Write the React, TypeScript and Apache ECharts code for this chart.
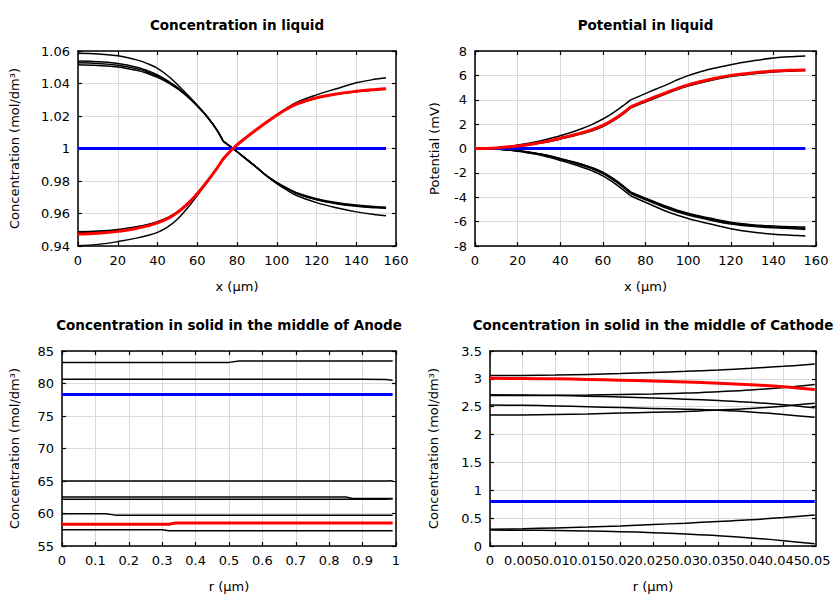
import React, { useEffect, useRef } from "react";
import * as echarts from "echarts";

// ---------- Panel 1 & 2: liquid, x in µm ----------
const X_LIQ = [0, 10, 20, 30, 35, 40, 45, 50, 55, 60, 65, 70, 73, 78, 85, 90, 95, 100, 105, 110, 120, 130, 140, 150, 155];
const X_KINK = 73;

// Concentration in liquid (mol/dm3)
const CL_BLACK_A = [1.0586, 1.0582, 1.0571, 1.0544, 1.0522, 1.0493, 1.0449, 1.0394, 1.0332, 1.0266, 1.0195, 1.0112, 1.0046, 1.0, 0.9932, 0.9882, 0.9829, 0.9784, 0.9745, 0.9711, 0.9667, 0.9635, 0.961, 0.9592, 0.9586];
const CL_BLACK_B = [1.0538, 1.0534, 1.0523, 1.0499, 1.0479, 1.0453, 1.0418, 1.0376, 1.0324, 1.0264, 1.0195, 1.0112, 1.0046, 1.0, 0.9932, 0.9882, 0.9832, 0.9791, 0.9757, 0.9728, 0.9691, 0.9667, 0.9652, 0.9642, 0.9639];
const CL_BLACK_C = [1.0527, 1.0523, 1.0513, 1.049, 1.0471, 1.0446, 1.0413, 1.0372, 1.0322, 1.0263, 1.0195, 1.0112, 1.0046, 1.0, 0.9932, 0.9882, 0.9832, 0.979, 0.9755, 0.9725, 0.9687, 0.9663, 0.9648, 0.9638, 0.9635];
const CL_BLACK_D = [1.0515, 1.0511, 1.0502, 1.048, 1.0462, 1.0438, 1.0407, 1.0368, 1.032, 1.0262, 1.0195, 1.0112, 1.0046, 1.0, 0.9932, 0.9882, 0.9832, 0.979, 0.9754, 0.9723, 0.9684, 0.966, 0.9645, 0.9635, 0.9632];
const CL_BLACK_E = [0.9402, 0.941, 0.9427, 0.945, 0.9465, 0.9484, 0.9516, 0.9565, 0.9632, 0.971, 0.9793, 0.988, 0.9935, 1.0, 1.0072, 1.0118, 1.0163, 1.0208, 1.0249, 1.0284, 1.033, 1.0368, 1.0404, 1.0427, 1.0435];
const CL_BLACK_F = [0.9488, 0.9492, 0.9502, 0.952, 0.9533, 0.955, 0.9574, 0.961, 0.966, 0.9723, 0.9797, 0.988, 0.9935, 1.0, 1.0072, 1.0118, 1.0163, 1.0205, 1.0243, 1.0273, 1.031, 1.0334, 1.035, 1.0361, 1.0365];
const CL_BLACK_G = [0.9481, 0.9486, 0.9496, 0.9515, 0.9528, 0.9546, 0.9571, 0.9608, 0.9659, 0.9722, 0.9797, 0.988, 0.9935, 1.0, 1.0072, 1.0118, 1.0163, 1.0205, 1.0243, 1.0273, 1.0311, 1.0335, 1.0351, 1.0362, 1.0366];
const CL_RED = [0.9474, 0.9479, 0.949, 0.951, 0.9524, 0.9542, 0.9568, 0.9606, 0.9658, 0.9722, 0.9797, 0.988, 0.9935, 1.0, 1.0072, 1.0118, 1.0163, 1.0205, 1.0243, 1.0274, 1.0312, 1.0336, 1.0352, 1.0363, 1.0367];
const CL_BLUE = [1, 1, 1, 1, 1, 1, 1, 1, 1, 1, 1, 1, 1, 1, 1, 1, 1, 1, 1, 1, 1, 1, 1, 1, 1];

// Potential in liquid (mV)
const PL_BLACK_UP_OUT = [0, 0.06, 0.28, 0.6, 0.82, 1.05, 1.32, 1.62, 1.98, 2.42, 2.95, 3.57, 3.99, 4.36, 4.88, 5.24, 5.64, 5.98, 6.26, 6.5, 6.88, 7.18, 7.42, 7.55, 7.59];
const PL_BLACK_UP = [0, 0.04, 0.18, 0.42, 0.58, 0.78, 0.98, 1.2, 1.46, 1.8, 2.28, 2.88, 3.32, 3.68, 4.17, 4.5, 4.83, 5.12, 5.36, 5.56, 5.9, 6.11, 6.27, 6.36, 6.4];
const PL_RED = [0, 0.05, 0.2, 0.46, 0.63, 0.84, 1.05, 1.28, 1.55, 1.9, 2.38, 2.98, 3.42, 3.78, 4.27, 4.6, 4.93, 5.22, 5.46, 5.66, 6.0, 6.2, 6.35, 6.43, 6.45];
const PL_BLACK_LO_1 = [0, -0.04, -0.17, -0.42, -0.6, -0.82, -1.04, -1.28, -1.57, -1.95, -2.48, -3.12, -3.56, -3.93, -4.42, -4.76, -5.06, -5.3, -5.52, -5.71, -6.05, -6.25, -6.36, -6.43, -6.45];
const PL_BLACK_LO_2 = [0, -0.04, -0.18, -0.44, -0.62, -0.85, -1.08, -1.32, -1.62, -2.0, -2.54, -3.18, -3.62, -3.99, -4.48, -4.83, -5.13, -5.37, -5.59, -5.78, -6.12, -6.32, -6.44, -6.51, -6.54];
const PL_BLACK_LO_3 = [0, -0.05, -0.19, -0.46, -0.65, -0.88, -1.12, -1.37, -1.67, -2.06, -2.6, -3.25, -3.69, -4.06, -4.56, -4.91, -5.21, -5.45, -5.67, -5.86, -6.19, -6.39, -6.51, -6.58, -6.64];
const PL_BLACK_LO_OUT = [0, -0.05, -0.22, -0.52, -0.73, -0.98, -1.24, -1.52, -1.84, -2.24, -2.8, -3.45, -3.88, -4.27, -4.8, -5.17, -5.47, -5.74, -5.97, -6.18, -6.58, -6.85, -7.03, -7.13, -7.17];
const PL_BLUE = [0, 0, 0, 0, 0, 0, 0, 0, 0, 0, 0, 0, 0, 0, 0, 0, 0, 0, 0, 0, 0, 0, 0, 0, 0];

// ---------- Panel 3: solid, anode, r in µm ----------
const R_AN = [0, 0.1, 0.13, 0.16, 0.2, 0.3, 0.32, 0.34, 0.4, 0.5, 0.53, 0.6, 0.7, 0.8, 0.85, 0.87, 0.9, 0.97, 0.99];
const AN_1 = [83.25, 83.25, 83.25, 83.25, 83.25, 83.25, 83.25, 83.25, 83.25, 83.25, 83.45, 83.45, 83.45, 83.45, 83.45, 83.45, 83.45, 83.45, 83.45];
const AN_2 = [80.65, 80.65, 80.65, 80.65, 80.65, 80.65, 80.65, 80.65, 80.65, 80.65, 80.65, 80.65, 80.65, 80.65, 80.65, 80.65, 80.65, 80.62, 80.5];
const AN_BLUE = [78.3, 78.3, 78.3, 78.3, 78.3, 78.3, 78.3, 78.3, 78.3, 78.3, 78.3, 78.3, 78.3, 78.3, 78.3, 78.3, 78.3, 78.3, 78.3];
const AN_3 = [65.0, 65.0, 65.0, 65.0, 65.0, 65.0, 65.0, 65.0, 65.0, 65.0, 65.0, 65.0, 65.0, 65.0, 65.0, 65.0, 65.0, 65.0, 65.02];
const AN_4 = [62.55, 62.55, 62.55, 62.55, 62.55, 62.55, 62.55, 62.55, 62.55, 62.55, 62.55, 62.55, 62.55, 62.55, 62.55, 62.32, 62.3, 62.3, 62.3];
const AN_5 = [62.2, 62.2, 62.2, 62.2, 62.2, 62.2, 62.2, 62.2, 62.2, 62.2, 62.2, 62.2, 62.2, 62.2, 62.2, 62.2, 62.2, 62.2, 62.25];
const AN_6 = [59.95, 59.95, 59.95, 59.75, 59.75, 59.75, 59.75, 59.75, 59.75, 59.75, 59.75, 59.75, 59.75, 59.75, 59.75, 59.75, 59.75, 59.75, 59.75];
const AN_RED = [58.35, 58.35, 58.35, 58.35, 58.35, 58.35, 58.35, 58.55, 58.55, 58.55, 58.55, 58.55, 58.55, 58.55, 58.55, 58.55, 58.55, 58.55, 58.55];
const AN_7 = [57.5, 57.5, 57.5, 57.5, 57.5, 57.5, 57.35, 57.35, 57.35, 57.35, 57.35, 57.35, 57.35, 57.35, 57.35, 57.35, 57.35, 57.35, 57.35];

// ---------- Panel 4: solid, cathode, r in µm ----------
const R_CA = [0, 0.005, 0.01, 0.015, 0.02, 0.025, 0.03, 0.035, 0.04, 0.045, 0.0498];
const CA_1 = [3.06, 3.062, 3.068, 3.08, 3.095, 3.113, 3.135, 3.16, 3.19, 3.225, 3.265];
const CA_RED = [3.01, 3.007, 3.0, 2.99, 2.977, 2.962, 2.944, 2.922, 2.895, 2.86, 2.81];
const CA_2 = [2.7, 2.7, 2.705, 2.71, 2.72, 2.73, 2.745, 2.77, 2.8, 2.845, 2.9];
const CA_3 = [2.715, 2.71, 2.7, 2.69, 2.675, 2.655, 2.635, 2.61, 2.58, 2.535, 2.48];
const CA_4 = [2.53, 2.525, 2.515, 2.5, 2.485, 2.47, 2.455, 2.435, 2.405, 2.36, 2.31];
const CA_5 = [2.35, 2.352, 2.36, 2.37, 2.385, 2.4, 2.415, 2.44, 2.47, 2.51, 2.56];
const CA_BLUE = [0.8, 0.8, 0.8, 0.8, 0.8, 0.8, 0.8, 0.8, 0.8, 0.8, 0.8];
const CA_6 = [0.3, 0.31, 0.325, 0.34, 0.36, 0.385, 0.41, 0.44, 0.47, 0.51, 0.555];
const CA_7 = [0.285, 0.283, 0.278, 0.27, 0.258, 0.24, 0.215, 0.185, 0.145, 0.095, 0.04];

// ---------- Text ----------
const TITLES = [
  "Concentration in liquid",
  "Potential in liquid",
  "Concentration in solid in the middle of Anode",
  "Concentration in solid in the middle of Cathode",
];
const X_NAMES = ["x (µm)", "x (µm)", "r (µm)", "r (µm)"];
const Y_NAMES = ["Concentration (mol/dm³)", "Potential (mV)", "Concentration (mol/dm³)", "Concentration (mol/dm³)"];

const X_RANGES = [
  { min: 0, max: 160, interval: 20 },
  { min: 0, max: 160, interval: 20 },
  { min: 0, max: 1, interval: 0.1 },
  { min: 0, max: 0.05, interval: 0.005 },
];
const Y_RANGES = [
  { min: 0.94, max: 1.06, interval: 0.02 },
  { min: -8, max: 8, interval: 2 },
  { min: 55, max: 85, interval: 5 },
  { min: 0, max: 3.5, interval: 0.5 },
];

const FONT = "DejaVu Sans";
const GRIDS = [
  { left: 78, top: 51, width: 318, height: 195 },
  { left: 475, top: 51, width: 341, height: 195 },
  { left: 62, top: 351, width: 334, height: 195 },
  { left: 490, top: 351, width: 326, height: 195 },
];
const Y_NAME_GAPS = [57, 34, 41, 50];

function mkLine(xs: number[], ys: number[], color: string, width: number, idx: number, z: number, smooth: boolean) {
  return {
    type: "line",
    xAxisIndex: idx,
    yAxisIndex: idx,
    data: xs.map((x, i) => [x, ys[i]]),
    showSymbol: false,
    symbol: "none",
    silent: true,
    smooth: smooth ? 0.4 : false,
    z,
    lineStyle: { color, width },
  };
}

// liquid curves have a kink at the electrode/separator interface: smooth each side separately
function mkKinked(xs: number[], ys: number[], color: string, width: number, idx: number, z: number) {
  const k = xs.indexOf(X_KINK);
  return [
    mkLine(xs.slice(0, k + 1), ys.slice(0, k + 1), color, width, idx, z, true),
    mkLine(xs.slice(k), ys.slice(k), color, width, idx, z, true),
  ];
}

function buildOption() {
  const xAxes: any[] = [];
  const yAxes: any[] = [];
  const axisLine = { show: true, onZero: false, lineStyle: { color: "#000", width: 1.5 } };
  const axisTick = { show: true, inside: true, length: 4, lineStyle: { color: "#000", width: 1.2 } };
  const labelStyle = { color: "#000", fontSize: 13, fontFamily: FONT, margin: 8 };
  for (let i = 0; i < 4; i++) {
    xAxes.push({
      type: "value",
      gridIndex: i,
      position: "bottom",
      ...X_RANGES[i],
      axisLine,
      axisTick,
      axisLabel: { ...labelStyle, showMinLabel: true, showMaxLabel: i === 3 ? false : true },
      splitLine: { show: true, lineStyle: { color: "#dadada", width: 1 } },
      name: X_NAMES[i],
      nameLocation: "middle",
      nameGap: 34,
      nameTextStyle: { color: "#000", fontSize: 13, fontFamily: FONT },
    });
    yAxes.push({
      type: "value",
      gridIndex: i,
      position: "left",
      ...Y_RANGES[i],
      axisLine,
      axisTick,
      axisLabel: { ...labelStyle, showMinLabel: true, showMaxLabel: true },
      splitLine: { show: true, lineStyle: { color: "#dadada", width: 1 } },
      name: Y_NAMES[i],
      nameLocation: "middle",
      nameGap: Y_NAME_GAPS[i],
      nameRotate: 90,
      nameTextStyle: { color: "#000", fontSize: 13, fontFamily: FONT },
    });
  }
  for (let i = 0; i < 4; i++) {
    xAxes.push({
      type: "value",
      gridIndex: i,
      position: "top",
      ...X_RANGES[i],
      axisLine,
      axisTick,
      axisLabel: { show: false },
      splitLine: { show: false },
    });
    yAxes.push({
      type: "value",
      gridIndex: i,
      position: "right",
      ...Y_RANGES[i],
      axisLine,
      axisTick,
      axisLabel: { show: false },
      splitLine: { show: false },
    });
  }
  // extra bottom axis for the cathode panel: only carries the max label (0.05),
  // so that it overlaps 0.045 as in the original instead of hiding it
  xAxes.push({
    type: "value",
    gridIndex: 3,
    position: "bottom",
    min: X_RANGES[3].min,
    max: X_RANGES[3].max,
    interval: X_RANGES[3].max,
    axisLine: { show: false, onZero: false },
    axisTick: { show: false },
    axisLabel: { ...labelStyle, showMinLabel: false, showMaxLabel: true },
    splitLine: { show: false },
  });

  const B = "#000000";
  const R = "#ff0000";
  const BL = "#0000ff";
  const series: any[] = [
    // panel 1
    ...mkKinked(X_LIQ, CL_BLACK_A, B, 1.5, 0, 2),
    ...mkKinked(X_LIQ, CL_BLACK_B, B, 1.5, 0, 2),
    ...mkKinked(X_LIQ, CL_BLACK_C, B, 1.5, 0, 2),
    ...mkKinked(X_LIQ, CL_BLACK_D, B, 1.5, 0, 2),
    ...mkKinked(X_LIQ, CL_BLACK_E, B, 1.5, 0, 2),
    ...mkKinked(X_LIQ, CL_BLACK_F, B, 1.5, 0, 2),
    ...mkKinked(X_LIQ, CL_BLACK_G, B, 1.5, 0, 2),
    mkLine(X_LIQ, CL_BLUE, BL, 3, 0, 3, false),
    ...mkKinked(X_LIQ, CL_RED, R, 3, 0, 4),
    // panel 2
    ...mkKinked(X_LIQ, PL_BLACK_UP_OUT, B, 1.5, 1, 2),
    ...mkKinked(X_LIQ, PL_BLACK_UP, B, 1.5, 1, 2),
    ...mkKinked(X_LIQ, PL_BLACK_LO_1, B, 1.5, 1, 2),
    ...mkKinked(X_LIQ, PL_BLACK_LO_2, B, 1.5, 1, 2),
    ...mkKinked(X_LIQ, PL_BLACK_LO_3, B, 1.5, 1, 2),
    ...mkKinked(X_LIQ, PL_BLACK_LO_OUT, B, 1.5, 1, 2),
    mkLine(X_LIQ, PL_BLUE, BL, 3, 1, 3, false),
    ...mkKinked(X_LIQ, PL_RED, R, 3, 1, 4),
    // panel 3
    mkLine(R_AN, AN_1, B, 1.5, 2, 2, false),
    mkLine(R_AN, AN_2, B, 1.5, 2, 2, false),
    mkLine(R_AN, AN_3, B, 1.5, 2, 2, false),
    mkLine(R_AN, AN_4, B, 1.5, 2, 2, false),
    mkLine(R_AN, AN_5, B, 1.5, 2, 2, false),
    mkLine(R_AN, AN_6, B, 1.5, 2, 2, false),
    mkLine(R_AN, AN_7, B, 1.5, 2, 2, false),
    mkLine(R_AN, AN_BLUE, BL, 3, 2, 3, false),
    mkLine(R_AN, AN_RED, R, 3, 2, 4, false),
    // panel 4
    mkLine(R_CA, CA_1, B, 1.5, 3, 2, true),
    mkLine(R_CA, CA_2, B, 1.5, 3, 2, true),
    mkLine(R_CA, CA_3, B, 1.5, 3, 2, true),
    mkLine(R_CA, CA_4, B, 1.5, 3, 2, true),
    mkLine(R_CA, CA_5, B, 1.5, 3, 2, true),
    mkLine(R_CA, CA_6, B, 1.5, 3, 2, true),
    mkLine(R_CA, CA_7, B, 1.5, 3, 2, true),
    mkLine(R_CA, CA_BLUE, BL, 3, 3, 3, false),
    mkLine(R_CA, CA_RED, R, 3, 3, 4, true),
  ];

  const titles = TITLES.map((t, i) => ({
    text: t,
    left: GRIDS[i].left + GRIDS[i].width / 2,
    top: i < 2 ? 18 : 318,
    textAlign: "center",
    padding: 0,
    textStyle: { color: "#000", fontSize: 13.5, fontWeight: "bold", fontFamily: FONT },
  }));

  return {
    animation: false,
    backgroundColor: "#ffffff",
    title: titles,
    grid: GRIDS.map((g) => ({ ...g, containLabel: false })),
    xAxis: xAxes,
    yAxis: yAxes,
    series,
  };
}

export default function App() {
  const ref = useRef<HTMLDivElement>(null);
  useEffect(() => {
    if (!ref.current) return;
    const chart = echarts.init(ref.current, null, { renderer: "svg" });
    chart.setOption(buildOption() as any);
    return () => {
      chart.dispose();
    };
  }, []);
  return <div ref={ref} style={{ position: "fixed", left: 0, top: 0, width: 840, height: 600 }} />;
}
